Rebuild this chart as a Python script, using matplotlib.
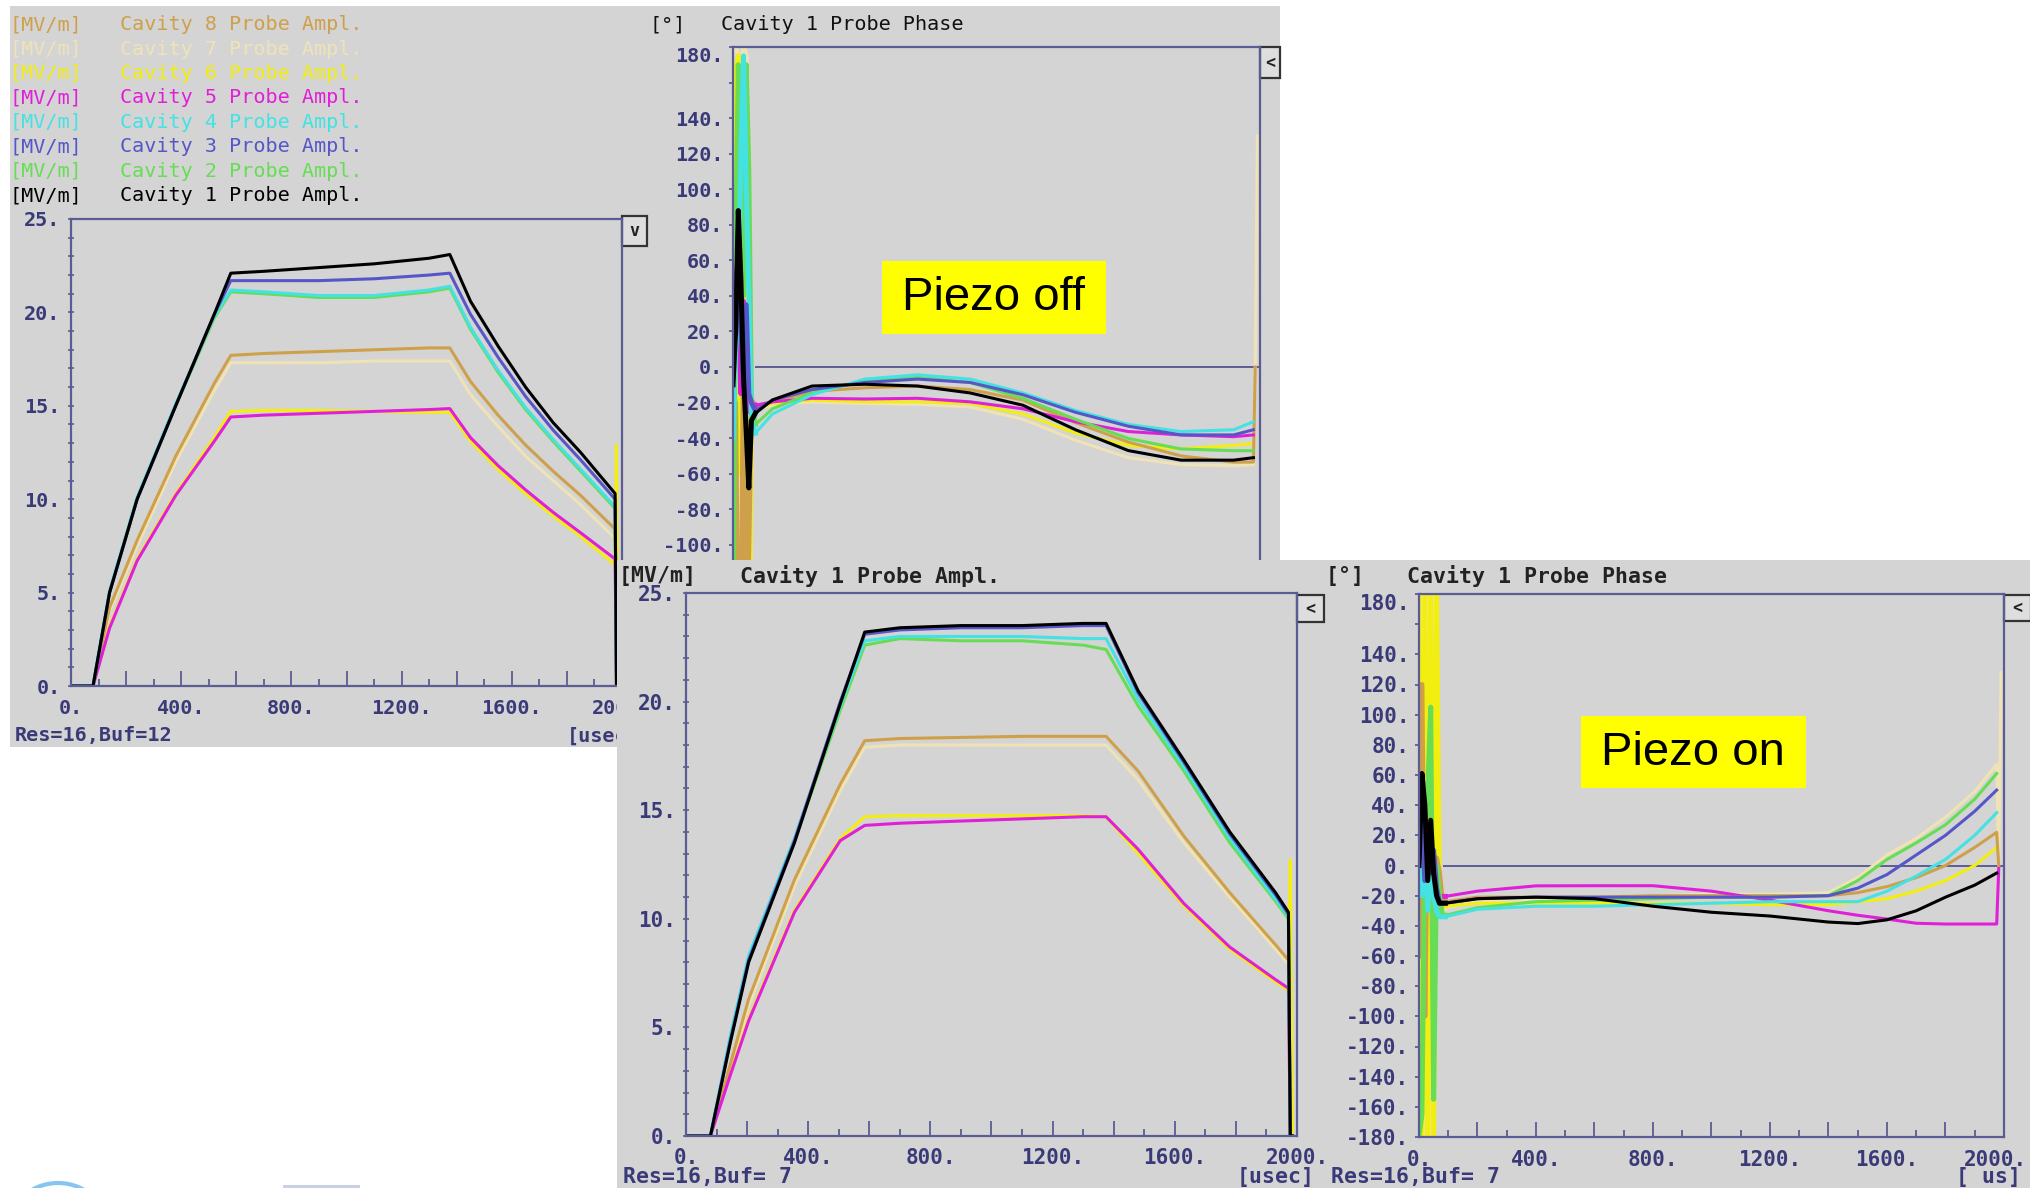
import numpy as np
import matplotlib.pyplot as plt
from matplotlib.patches import Rectangle, Circle
from matplotlib.transforms import Bbox, TransformedBbox, ScaledTranslation

plt.rcParams['font.family'] = ['DejaVu Sans Mono']

W, H = 2031, 1188
NAN = np.nan

# colours of cavity 1..8
cav_colors = ["#000000", "#66dd55", "#5656c8", "#44e2e2",
              "#e020d8", "#f2ee10", "#efe3b6", "#cfa04a"]
draw_order = [7, 6, 8, 5, 2, 4, 3, 1]

# --- probe amplitude, piezo off [MV/m]  (values for cavity 1..8)
t_amp_off = [0, 80, 140, 240, 380, 520, 580, 700, 900, 1100, 1300, 1375,
             1450, 1550, 1650, 1750, 1850, 1975, 1980, 1985]
amp_off = [
    [0, 0, 5.0, 10.0, 15.0, 19.9, 22.1, 22.2, 22.4, 22.6, 22.9, 23.1, 20.6, 18.2, 16.0, 14.1, 12.5, 10.3, 0, 0],
    [0, 0, 5.0, 10.0, 15.0, 19.7, 21.1, 21.0, 20.8, 20.8, 21.1, 21.3, 19.1, 16.8, 14.8, 13.1, 11.5, 9.5, 0, 0],
    [0, 0, 5.0, 10.0, 15.0, 19.9, 21.7, 21.7, 21.7, 21.8, 22.0, 22.1, 19.9, 17.6, 15.5, 13.7, 12.1, 10.0, 0, 0],
    [0, 0, 5.1, 10.1, 15.1, 19.8, 21.2, 21.1, 20.9, 20.9, 21.2, 21.4, 19.2, 16.9, 14.9, 13.2, 11.6, 9.6, 0, 0],
    [0, 0, 3.1, 6.7, 10.2, 13.1, 14.4, 14.5, 14.6, 14.7, 14.8, 14.85, 13.3, 11.8, 10.5, 9.3, 8.2, 6.8, 0, 0],
    [0, 0, 3.2, 6.8, 10.3, 13.3, 14.7, 14.75, 14.75, 14.7, 14.65, 14.65, 13.1, 11.6, 10.3, 9.1, 8.0, 6.5, 12.9, 0],
    [0, 0, 4.0, 7.5, 12.0, 15.8, 17.3, 17.3, 17.3, 17.4, 17.4, 17.4, 15.6, 13.9, 12.3, 11.0, 9.7, 7.9, 0, 0],
    [0, 0, 4.2, 7.8, 12.3, 16.2, 17.7, 17.8, 17.9, 18.0, 18.1, 18.1, 16.3, 14.5, 12.9, 11.5, 10.2, 8.4, 0, 0],
]

# --- probe phase, piezo off [deg]
t_ph_off = [0, 10, 20, 30, 40, 50, 60, 70, 85, 150, 300, 500, 700, 900, 1100,
            1300, 1500, 1700, 1900, 1975, 1982, 1990]
ph_off = [
    [-10, 20, 88, 49, -6, -36, -68, -30, -26, -18.5, -10.7, -9.7, -10.7, -14.6, -21.5, -35.3, -47, -52.4, -52.4, -51, NAN, NAN],
    [-150, 60, 170, 103, 40, 170, 110, -20, -32.3, -23.5, -14.6, -7.8, -5.8, -8.7, -17.6, -29.4, -40.2, -46.1, -47.1, -47.1, NAN, NAN],
    [0, 45, 65, 20, -10, 35, -15, -20, -24.5, -18.6, -12.7, -8.7, -6.8, -8.7, -15.6, -25.5, -33.3, -38.2, -38.2, -35.3, NAN, NAN],
    [-40, 10, 30, 120, 175, 103, 40, -30, -37.2, -26.4, -15.6, -6.8, -4.4, -6.8, -14.6, -24.5, -32.3, -36.3, -35.3, -30.8, NAN, NAN],
    [30, 8, 25, -15, 37, -10, -25, -22, -21.5, -19.6, -17.6, -18, -17.6, -19.6, -23.5, -30.8, -36.3, -38.2, -39.2, -38.2, NAN, NAN],
    [170, -100, 175, -60, 103, -3, -180, -20, -23.5, -20.5, -18.6, -19.6, -19.6, -20.5, -26.4, -37.2, -44.1, -46.1, -44.1, -43.1, NAN, NAN],
    [180, 180, 175, -180, 180, 175, -180, -25, -23.5, -21.5, -19.6, -20.5, -21, -22.5, -29.4, -41.2, -51, -54.9, -55.5, -54.9, 0, 130],
    [-180, -20, -180, -180, 20, -180, -100, -18, -22.5, -19.6, -13.7, -11.7, -10.7, -12.7, -18.6, -31.3, -42.2, -50, -53.5, -53.5, 0, NAN],
]

# --- probe amplitude, piezo on [MV/m]
t_amp_on = [0, 80, 145, 205, 355, 505, 585, 700, 900, 1100, 1300, 1375,
            1480, 1630, 1780, 1930, 1972, 1978, 1985]
amp_on = [
    [0, 0, 4.3, 8.0, 13.5, 19.9, 23.2, 23.4, 23.5, 23.5, 23.6, 23.6, 20.5, 17.3, 14.0, 11.2, 10.3, 0, 0],
    [0, 0, 4.5, 8.2, 13.6, 19.6, 22.6, 22.9, 22.8, 22.8, 22.6, 22.4, 19.8, 16.8, 13.5, 10.8, 10.0, 0, 0],
    [0, 0, 4.4, 8.1, 13.6, 20.0, 23.1, 23.3, 23.4, 23.4, 23.5, 23.5, 20.4, 17.2, 13.9, 11.1, 10.2, 0, 0],
    [0, 0, 4.6, 8.3, 13.7, 19.8, 22.8, 23.0, 23.0, 23.0, 22.9, 22.9, 20.1, 17.0, 13.7, 10.9, 10.1, 0, 0],
    [0, 0, 2.8, 5.3, 10.3, 13.6, 14.3, 14.4, 14.5, 14.6, 14.7, 14.7, 13.2, 10.7, 8.7, 7.2, 6.8, 0, 0],
    [0, 0, 2.9, 5.4, 10.4, 13.7, 14.7, 14.75, 14.75, 14.75, 14.75, 14.7, 13.0, 10.6, 8.6, 7.1, 6.7, 12.7, 0],
    [0, 0, 3.1, 6.0, 11.5, 15.9, 17.9, 18.0, 18.0, 18.0, 18.0, 18.0, 16.4, 13.5, 11.0, 8.6, 7.9, 0, 0],
    [0, 0, 3.3, 6.3, 11.8, 16.2, 18.2, 18.3, 18.35, 18.4, 18.4, 18.4, 16.8, 13.8, 11.2, 8.8, 8.1, 0, 0],
]

# --- probe phase, piezo on [deg]
t_ph_on = [0, 10, 20, 30, 40, 50, 60, 70, 80, 90, 200, 400, 600, 800, 1000,
           1200, 1400, 1500, 1600, 1700, 1800, 1900, 1975, 1982, 1990]
ph_on = [
    [0, 61, 40, -10, 30, -5, -20, -25, -25, -25, -22, -21, -22, -27, -31, -33.5, -37.5, -38.5, -36, -30, -21, -13, -5, NAN, NAN],
    [-180, -165, 20, 50, 105, -155, 0, -20, -33, -33, -28, -24, -23, -22, -21, -21, -20, -10, 4, 15, 27, 44, 61, NAN, NAN],
    [10, 30, -10, 20, -5, 10, -15, -25, -25, -25, -22, -21, -21, -21, -21, -21, -20, -15, -6, 7, 20, 36, 50, NAN, NAN],
    [20, -20, 10, -30, 0, -20, -30, -34, -34, -34, -29, -27, -27, -26, -25, -24, -24, -24, -17, -7, 4, 20, 35, NAN, NAN],
    [41, 21, 30, -5, 10, -10, -15, -20, -20.5, -20.5, -17, -13.5, -13.4, -13.4, -17, -23, -30, -33, -35.5, -38.3, -38.8, -38.8, -38.8, -2, NAN],
    [180, -180, 180, -180, 180, -180, 180, -20, -27, -27, -25, -25, -25, -25, -25, -26, -26, -24, -22, -17, -10, 0, 12, NAN, NAN],
    [-180, 180, -180, 180, -180, 180, -20, -28, -28, -28, -24, -22, -21, -20, -19, -19, -18, -8, 7, 18, 32, 49, 67, 0, 128],
    [-60, 120, -100, 55, 40, -100, 5, -5, -24, -24, -21, -21, -21, -20, -20, -20, -20, -18, -14, -8, 0, 12, 22, 0, NAN],
]

amp_ticks = [0, 5, 10, 15, 20, 25]
ph_ticks = list(range(-180, 181, 20))
x_ticks = list(range(0, 2001, 200))

GREY = "#d4d4d4"
SPINE = "#5c5c94"
TICKTXT = "#3a3a78"

fig = plt.figure(figsize=(W / 100, H / 100), dpi=100)
fig.patch.set_facecolor("white")

# part of the top screenshot left uncovered by the bottom one (x < 617 px)
top_clip = TransformedBbox(Bbox([[0, 0], [617 / W, 1]]), fig.transFigure)


def px_rect(x0, y0, x1, y1):
    return [x0 / W, 1 - y1 / H, (x1 - x0) / W, (y1 - y0) / H]


def page(z):
    ax = fig.add_axes([0, 0, 1, 1], zorder=z)
    ax.set_xlim(0, W)
    ax.set_ylim(H, 0)
    ax.axis("off")
    return ax


def button(ax, x0, y0, x1, y1, label):
    ax.add_patch(Rectangle((x0, y0), x1 - x0, y1 - y0, facecolor="#dedede",
                           edgecolor="#333333", lw=1.6))
    ax.text((x0 + x1) / 2, (y0 + y1) / 2, label, ha="center", va="center",
            fontsize=12, fontweight="bold", color="#222222")


def panel(rect, z, phase, fs, ymin_label=None, show_x=True):
    ax = fig.add_axes(px_rect(*rect), zorder=z)
    ax.set_facecolor("none")
    ax.set_xlim(0, 2000)
    for s in ax.spines.values():
        s.set_color(SPINE)
        s.set_linewidth(1.6)
    ax.set_xticks(x_ticks)
    if show_x:
        ax.set_xticklabels([f"{v}." if v % 400 == 0 else "" for v in x_ticks])
    else:
        ax.set_xticklabels([])
    ax.set_xticks(range(0, 2001, 100), minor=True)
    if phase:
        ax.set_ylim(-180, 180)
        ax.set_yticks(ph_ticks)
        labels = []
        for v in ph_ticks:
            hidden = v == 160 or (ymin_label is not None and v < ymin_label)
            labels.append("" if hidden else f"{v}.")
        ax.set_yticklabels(labels)
        ax.hlines(0, 82, 2000, color=SPINE, lw=1.4, zorder=1)
        ax.tick_params(axis="y", which="major", direction="out", length=3,
                       width=1.3, color=SPINE, pad=4)
    else:
        ax.set_ylim(0, 25)
        ax.set_yticks(amp_ticks)
        ax.set_yticklabels([f"{v}." for v in amp_ticks])
        ax.set_yticks(range(0, 26), minor=True)
        ax.tick_params(axis="y", which="both", direction="inout", length=5,
                       width=1.2, color=SPINE, pad=5)
    ax.tick_params(axis="x", which="major", direction="in", length=11,
                   width=1.3, color=SPINE, pad=9)
    ax.tick_params(axis="x", which="minor", direction="in", length=5,
                   width=1.3, color=SPINE)
    for lab in ax.get_xticklabels() + ax.get_yticklabels():
        lab.set_fontsize(fs)
        lab.set_fontweight("bold")
        lab.set_color(TICKTXT)
    if phase:
        for lab in ax.get_yticklabels():
            if lab.get_text() == "180.":
                lab.set_va("top")
    return ax


def draw_traces(ax, t, series, n_spike=0):
    # the noisy start of the phase traces is drawn thicker, as in the screenshots
    for n in draw_order:
        v = series[n - 1]
        if n_spike:
            ax.plot(t[:n_spike + 1], v[:n_spike + 1], color=cav_colors[n - 1],
                    lw=3.6, zorder=2)
            ax.plot(t[n_spike:], v[n_spike:], color=cav_colors[n - 1], lw=2.2, zorder=2)
        else:
            ax.plot(t, v, color=cav_colors[n - 1], lw=2.2, zorder=2)


# ---------------- top screenshot (piezo off)
top = page(0)
top.add_patch(Rectangle((10, 6), 1270, 741, facecolor=GREY, edgecolor="none"))
legend_y = np.linspace(24.6, 195.6, 8)
for i, n in enumerate(range(8, 0, -1)):
    top.text(10, legend_y[i], "[MV/m]", color=cav_colors[n - 1], fontsize=14.5, va="center")
    top.text(120, legend_y[i], f"Cavity {n} Probe Ampl.", color=cav_colors[n - 1],
             fontsize=14.5, va="center")
top.text(649, 25, "[°]", fontsize=14.5, va="center", color="#111111")
top.text(721, 25, "Cavity 1 Probe Phase", fontsize=14.5, va="center", color="#111111")
top.text(15, 736, "Res=16,Buf=12", fontsize=14.5, va="center", color=TICKTXT, fontweight="bold")
usec_top = top.text(567, 736, "[usec]", fontsize=14.5, va="center", color=TICKTXT,
                    fontweight="bold")
usec_top.set_clip_box(top_clip)
usec_top.set_clip_on(True)
button(top, 622, 216, 647, 246, "v")
button(top, 1260, 47, 1280, 78, "<")
top.add_patch(Rectangle((882, 261), 224, 73, facecolor="#ffff00", edgecolor="none"))
top.text(994, 298, "Piezo off", family=["Liberation Sans"], fontsize=34,
         ha="center", va="center", color="black")
# logo fragments in the white margin
top.add_patch(Circle((58, 1236), 53, fill=False, edgecolor="#86c5f2", lw=3))
top.add_patch(Rectangle((283, 1185), 77, 4, facecolor="#c9d0df", edgecolor="none"))

axA = panel((71, 219, 622, 686), 1, False, 14.5)
for lab in axA.get_xticklabels():
    lab.set_clip_box(top_clip)
    lab.set_clip_on(True)
draw_traces(axA, t_amp_off, amp_off)
axB = panel((733, 47, 1260, 687), 1, True, 14.5, ymin_label=-100, show_x=False)
draw_traces(axB, t_ph_off, ph_off, n_spike=8)

# ---------------- bottom screenshot (piezo on)
bot = page(2)
bot.add_patch(Rectangle((617, 560), W - 617, H - 560, facecolor=GREY, edgecolor="none"))
bot.text(619, 576, "[MV/m]", fontsize=15.5, fontweight="bold", va="center", color="#222222")
bot.text(740, 576, "Cavity 1 Probe Ampl.", fontsize=15.5, fontweight="bold", va="center", color="#222222")
bot.text(1326, 576, "[°]", fontsize=15.5, fontweight="bold", va="center", color="#222222")
bot.text(1407, 576, "Cavity 1 Probe Phase", fontsize=15.5, fontweight="bold", va="center", color="#222222")
bot.text(623, 1177, "Res=16,Buf= 7", fontsize=15.5, fontweight="bold", va="center", color=TICKTXT)
bot.text(1237, 1177, "[usec]", fontsize=15.5, fontweight="bold", va="center", color=TICKTXT)
bot.text(1331, 1177, "Res=16,Buf= 7", fontsize=15.5, fontweight="bold", va="center", color=TICKTXT)
bot.text(1956, 1177, "[ us]", fontsize=15.5, fontweight="bold", va="center", color=TICKTXT)
button(bot, 1297, 595, 1324, 622, "<")
button(bot, 2004, 595, 2031, 621, "<")
bot.add_patch(Rectangle((1581, 716), 225, 72, facecolor="#ffff00", edgecolor="none"))
bot.text(1693, 753, "Piezo on", family=["Liberation Sans"], fontsize=34,
         ha="center", va="center", color="black")

axC = panel((686, 593, 1297, 1136), 3, False, 15)
draw_traces(axC, t_amp_on, amp_on)
axD = panel((1419, 594, 2004, 1137), 3, True, 15)
draw_traces(axD, t_ph_on, ph_on, n_spike=9)
# the last x label of the right panel sits against the picture edge
for lab in axD.get_xticklabels():
    if lab.get_text() == "2000.":
        lab.set_transform(lab.get_transform() + ScaledTranslation(-6 / 72, 0, fig.dpi_scale_trans))

fig.savefig("out.png", dpi=100)
